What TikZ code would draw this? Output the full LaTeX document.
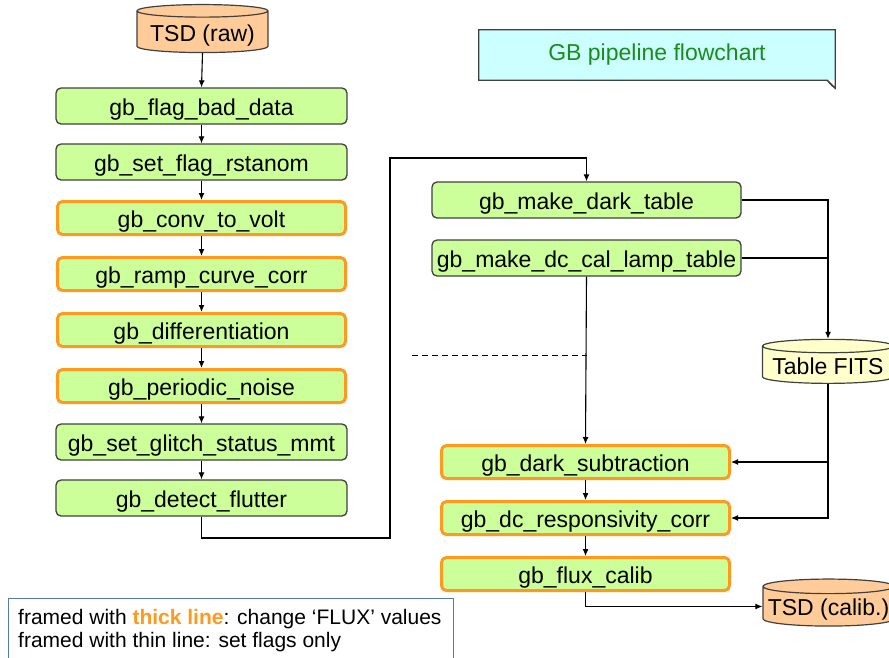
\documentclass[tikz,border=0pt]{standalone}
\usepackage{fontspec}
\setmainfont{Liberation Sans}
\usetikzlibrary{shapes.geometric,arrows.meta}
\definecolor{boxgreen}{HTML}{CCFF99}
\definecolor{boxline}{HTML}{404040}
\definecolor{thickor}{HTML}{FF9A1F}
\definecolor{peach}{HTML}{FFCC99}
\definecolor{paleyel}{HTML}{FFFFCC}
\definecolor{palecyan}{HTML}{CCFFFF}
\definecolor{titlegreen}{RGB}{25,140,25}
\definecolor{legline}{HTML}{5A78A8}
\tikzset{
  x=1pt,y=-1pt,
  every node/.style={font=\fontsize{23}{27}\selectfont},
  procbox/.style={rectangle, rounded corners=5pt, fill=boxgreen, draw=boxline, line width=1.3pt,
    minimum width=291pt, minimum height=36pt, inner sep=0pt, text height=20pt, text depth=2pt},
  fluxbox/.style={procbox, draw=thickor, line width=3pt, minimum width=288pt, minimum height=33pt},
  dbcyl/.style={cylinder, shape border rotate=90, aspect=0.12, draw=boxline, line width=1.2pt,
    minimum width=131pt, minimum height=48pt, inner sep=0pt, text height=19pt, text depth=1pt},
  flow/.style={draw=black, line width=1.1pt, -{Latex[length=7pt,width=6pt]}},
  plain/.style={draw=black, line width=1.1pt},
}
\begin{document}
\begin{tikzpicture}
\useasboundingbox (0,0) rectangle (889,657);
\clip (0,0) rectangle (889,657);
% left column
\node[dbcyl, fill=peach] (tsdraw) at (202.5,32) {TSD (raw)};
\node[procbox] (flag) at (201.5,106) {gb\_flag\_bad\_data};
\node[procbox] (rstan) at (201.5,162) {gb\_set\_flag\_rstanom};
\node[fluxbox] (volt) at (201.5,218) {gb\_conv\_to\_volt};
\node[fluxbox] (ramp) at (201.5,274) {gb\_ramp\_curve\_corr};
\node[fluxbox] (diff) at (201.5,330) {gb\_differentiation};
\node[fluxbox] (noise) at (201.5,386) {gb\_periodic\_noise};
\node[procbox] (glitch) at (201.5,442) {gb\_set\_glitch\_status\_mmt};
\node[procbox] (flutter) at (201.5,498) {gb\_detect\_flutter};
% right column
\node[procbox, minimum width=309pt] (dark) at (586.5,200) {gb\_make\_dark\_table};
\node[procbox, minimum width=309pt] (lamp) at (586.5,258) {gb\_make\_dc\_cal\_lamp\_table};
\node[dbcyl, fill=paleyel, minimum height=44pt] (fits) at (828,365) {Table FITS};
\node[fluxbox] (darksub) at (585.5,462) {gb\_dark\_subtraction};
\node[fluxbox] (dcresp) at (585.5,518) {gb\_dc\_responsivity\_corr};
\node[fluxbox] (fluxcal) at (585.5,574) {gb\_flux\_calib};
\node[dbcyl, fill=peach, minimum height=47pt] (tsdc) at (828.5,606.5) {TSD (calib.)};
% title note
\node[rectangle, fill=palecyan, minimum width=356pt, minimum height=50pt, inner sep=0pt,
      text=titlegreen] (title) at (657,55) {GB pipeline flowchart};
\draw[boxline, line width=1.2pt] (title.north west) -- (title.north east) -- ([yshift=-8pt]title.south east)
  -- ([xshift=-8pt]title.south east) -- (title.south west) -- cycle;
\draw[boxline, line width=1pt, fill=boxline!70] ([yshift=-8pt]title.south east) -- ([xshift=-8pt]title.south east)
  .. controls ([xshift=-5pt,yshift=-4pt]title.south east) .. cycle;
% legend
\node[rectangle, draw=legline, line width=1.2pt, anchor=north west, minimum width=445pt,
      minimum height=80pt, inner sep=0pt] (legend) at (8,598) {};
\node[anchor=base west, inner sep=0pt, font=\fontsize{21}{23}\selectfont] (leg1) at (18,624)
  {framed with \textcolor{thickor}{\bfseries thick line}: change ‘FLUX’ values};
\node[anchor=base west, inner sep=0pt, font=\fontsize{21}{23}\selectfont] (leg2) at (18,647)
  {framed with thin line: set flags only};
% connectors left
\draw[flow] (tsdraw.south) -- (flag.north);
\draw[flow] (flag.south) -- (rstan.north);
\draw[flow] (rstan.south) -- (volt.north);
\draw[flow] (volt.south) -- (ramp.north);
\draw[flow] (ramp.south) -- (diff.north);
\draw[flow] (diff.south) -- (noise.north);
\draw[flow] (noise.south) -- (glitch.north);
\draw[flow] (glitch.south) -- (flutter.north);
\coordinate (j1) at (390,538);
\coordinate (j2) at (390,158);
\draw[flow] (flutter.south) |- (j1) -- (j2) -| (dark.north);
% right connectors
\draw[flow] (dark.east) -| (fits.north);
\draw[plain] (lamp.east) -- (lamp.east -| fits.north);
\draw[flow] (lamp.south) -- (darksub.north);
\coordinate (d1) at (412,355);
\draw[line width=1pt, dash pattern=on 6pt off 4pt] (d1) -- (d1 -| lamp.south);
\draw[flow] (fits.south) |- (dcresp.east);
\draw[flow] (fits.south |- darksub.east) -- (darksub.east);
\draw[flow] (darksub.south) -- (dcresp.north);
\draw[flow] (dcresp.south) -- (fluxcal.north);
\draw[flow] (fluxcal.south) |- (tsdc.west);
\end{tikzpicture}
\end{document}
